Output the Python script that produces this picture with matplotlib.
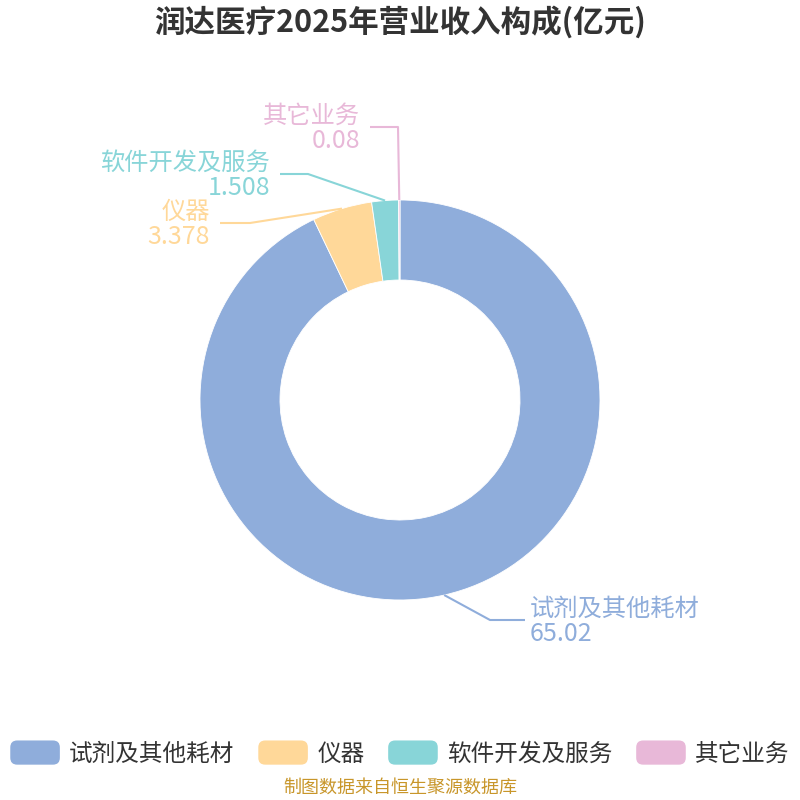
import numpy as np
import matplotlib
matplotlib.use("Agg")
import matplotlib.pyplot as plt
from matplotlib.patches import FancyBboxPatch
from matplotlib.legend_handler import HandlerPatch
import matplotlib.patches as mpatches

plt.rcParams["font.family"] = ["Noto Sans CJK SC", "DejaVu Sans"]

# ── data ──────────────────────────────────────────────────────────────────────
title = "润达医疗2025年营业收入构成(亿元)"
categories = ["试剂及其他耗材", "仪器", "软件开发及服务", "其它业务"]
values = [65.02, 3.378, 1.508, 0.08]
value_labels = ["65.02", "3.378", "1.508", "0.08"]
colors = ["#8FADDB", "#FFD899", "#88D5D8", "#E8B8D8"]
source = "制图数据来自恒生聚源数据库"

# ── layout (pixel space, y measured from the top) ─────────────────────────────
CX, CY, R, RING = 400, 400, 200, 80
# elbow point and end x of each leader line, text side
leaders = [
    ((490, 620), 525, "left"),
    ((250, 223), 220, "right"),
    ((308, 174), 280, "right"),
    ((398, 127), 370, "right"),
]

fig = plt.figure(figsize=(8, 8), dpi=100)
ax = fig.add_axes([0, 0, 1, 1])


def Y(py):
    return 800 - py


wedges, _ = ax.pie(values, colors=colors, startangle=90, counterclock=False,
                   center=(CX, Y(CY)), radius=R,
                   wedgeprops=dict(width=RING, edgecolor="white", linewidth=0.6))
ax.set_xlim(0, 800)
ax.set_ylim(0, 800)
ax.set_aspect("equal")
ax.axis("off")

for w, name, val, col, (elbow, end_x, side) in zip(wedges, categories, value_labels,
                                                   colors, leaders):
    mid = np.deg2rad((w.theta1 + w.theta2) / 2)
    sx, sy = CX + R * np.cos(mid), CY - R * np.sin(mid)
    ex, ey = elbow
    ax.plot([sx, ex, end_x], [Y(sy), Y(ey), Y(ey)], color=col, lw=1.5,
            solid_capstyle="butt")
    if side == "left":
        tx, ha = end_x + 5, "left"
    else:
        tx, ha = end_x - 10, "right"
    ax.text(tx, Y(ey - 11), name, color=col, fontsize=17.5, ha=ha, va="center")
    ax.text(tx, Y(ey + 14), val, color=col, fontsize=18, ha=ha, va="center")

fig.text(0.5, 1 - 22 / 800, title, ha="center", va="center", fontsize=22,
         fontweight="bold", color="#333333")


class RoundHandler(HandlerPatch):
    def create_artists(self, legend, orig_handle, xdescent, ydescent,
                       width, height, fontsize, trans):
        p = FancyBboxPatch((-xdescent, -ydescent), width, height,
                           boxstyle="round,pad=0,rounding_size=5",
                           facecolor=orig_handle.get_facecolor(),
                           edgecolor="none", transform=trans)
        return [p]


handles = [mpatches.Patch(facecolor=c) for c in colors]
fig.legend(handles, categories, loc="center", bbox_to_anchor=(0.5, 1 - 753 / 800),
           ncol=4, frameon=False, fontsize=17, labelcolor="#333333",
           handlelength=2.1, handleheight=1.2, handletextpad=0.4,
           columnspacing=1.0, borderaxespad=0,
           handler_map={mpatches.Patch: RoundHandler()})

fig.text(0.5, 1 - 788 / 800, source, ha="center", va="center", fontsize=13,
         color="#C8962A")

fig.savefig("out.png", dpi=100)
